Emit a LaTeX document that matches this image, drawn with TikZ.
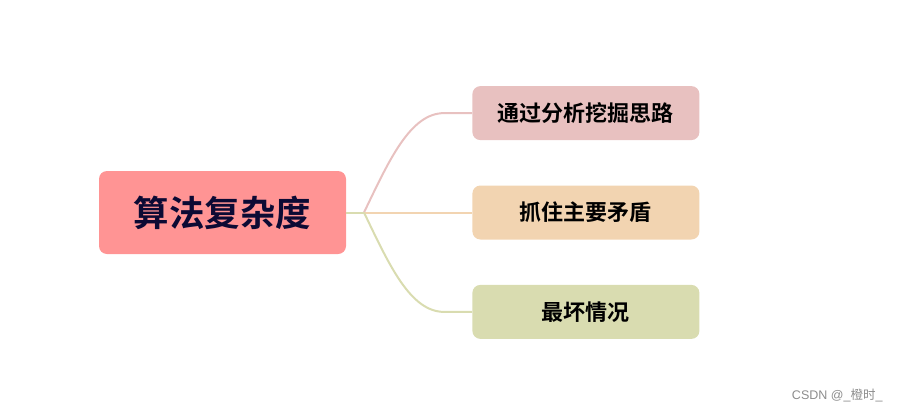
\documentclass[tikz,border=0pt]{standalone}
\usepackage{fontspec}
\usepackage{xcolor}
\usepackage{tikz}
\usetikzlibrary{positioning}
\newfontfamily\cjk{Noto Sans CJK SC}[BoldFont={Noto Sans CJK SC Bold}]
\setsansfont{Liberation Sans}
\definecolor{rootred}{RGB}{255, 148, 148}
\definecolor{rootink}{RGB}{12, 10, 52}
\definecolor{branchpink}{RGB}{232, 193, 192}
\definecolor{branchtan}{RGB}{242, 212, 177}
\definecolor{branchsage}{RGB}{217, 220, 176}

\begin{document}
\begin{tikzpicture}[
    x=1pt, y=-1pt,
    node distance=45pt,
    root/.style={
        rectangle, rounded corners=8pt,
        fill=rootred, text=rootink,
        minimum width=247pt, minimum height=83pt,
        font=\cjk\bfseries\fontsize{35.5}{40}\selectfont
    },
    leaf/.style={
        rectangle, rounded corners=8pt,
        minimum width=227pt, minimum height=54pt,
        font=\cjk\bfseries\fontsize{22}{26}\selectfont
    },
    link/.style={line width=2pt}
]
    \useasboundingbox (0,0) rectangle (900,410);

    \node[root] (root) at (222.5,212.5) {算法复杂度};
    \node[leaf, fill=branchtan, right=126pt of root] (n2) {抓住主要矛盾};
    \node[leaf, fill=branchpink, above=of n2] (n1) {通过分析挖掘思路};
    \node[leaf, fill=branchsage, below=of n2] (n3) {最坏情况};

    \coordinate (split) at (364,212.5);

    \draw[link, branchpink] (split) .. controls +(25,-52) and +(-34,0) .. ([xshift=-28pt]n1.west) -- (n1.west);
    \draw[link, branchtan] (split) -- (n2.west);
    \draw[link, branchsage] (split) .. controls +(25,52) and +(-34,0) .. ([xshift=-28pt]n3.west) -- (n3.west);
    \draw[link, branchsage] (root.east) -- (split);

    \node[text=black!45, font=\sffamily\fontsize{12.5}{14}\selectfont, anchor=east] (mark) at (886,395) {CSDN @\_{\cjk 橙时}\_};
\end{tikzpicture}
\end{document}
